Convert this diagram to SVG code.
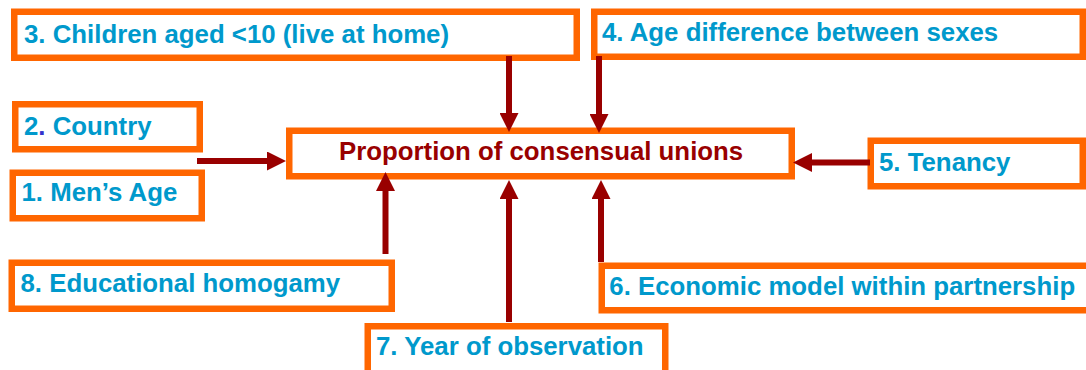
<svg xmlns="http://www.w3.org/2000/svg" width="1086" height="370" viewBox="0 0 1086 370">
<style>
.box{fill:#FFFFFF;stroke:#FF6600;stroke-width:6.5}
.lbl{font-family:"Liberation Sans",Arial,sans-serif;font-weight:bold;font-size:25.8px;fill:#0099CC}
.main{font-family:"Liberation Sans",Arial,sans-serif;font-weight:bold;font-size:25.8px;fill:#990000}
.conn{stroke:#990000;stroke-width:6;fill:none}
</style>
<defs>
<marker id="ah" viewBox="0 0 19 19" refX="1" refY="9.5" markerWidth="19" markerHeight="19" markerUnits="userSpaceOnUse" orient="auto">
<path d="M0,0 L19,9.5 L0,19 z" fill="#990000"/>
</marker>
</defs>
<rect width="1086" height="370" fill="#FFFFFF"/>
<g id="node-3"><rect class="box" x="14.25" y="11.75" width="562.5" height="46"/><text class="lbl" x="24" y="43">3. Children aged &lt;10 (live at home)</text></g>
<g id="node-4"><rect class="box" x="594.25" y="11.75" width="488.5" height="45"/><text class="lbl" x="602" y="41">4. Age difference between sexes</text></g>
<g id="node-2"><rect class="box" x="15.25" y="104.25" width="184.5" height="45"/><text class="lbl" x="24" y="135">2<tspan fill="#3333CC">.</tspan> Country</text></g>
<g id="node-1"><rect class="box" x="12.75" y="172.75" width="189" height="45.5"/><text class="lbl" x="21.5" y="201">1. Men’s Age</text></g>
<g id="node-center"><rect class="box" x="289.25" y="130.75" width="502.5" height="45.5"/><text class="main" x="339" y="160">Proportion of consensual unions</text></g>
<g id="node-5"><rect class="box" x="870.75" y="140.75" width="212" height="45.5"/><text class="lbl" x="879" y="171">5. Tenancy</text></g>
<g id="node-8"><rect class="box" x="11.75" y="262.75" width="380" height="46"/><text class="lbl" x="20.5" y="291.5">8. Educational homogamy</text></g>
<g id="node-6"><rect class="box" x="601.75" y="265.75" width="490" height="44.5"/><text class="lbl" x="609.3" y="295">6. Economic model within partnership</text></g>
<g id="node-7"><rect class="box" x="367.75" y="326.25" width="297.5" height="48"/><text class="lbl" x="376" y="355">7. Year of observation</text></g>
<g id="connectors">
<path class="conn" d="M197,161 L268,161" marker-end="url(#ah)"/>
<path class="conn" d="M509,56 L509,114" marker-end="url(#ah)"/>
<path class="conn" d="M599,56 L599,115" marker-end="url(#ah)"/>
<path class="conn" d="M870,162.5 L811,162.5" marker-end="url(#ah)"/>
<path class="conn" d="M385.5,254 L385.5,190" marker-end="url(#ah)"/>
<path class="conn" d="M509,322 L509,198" marker-end="url(#ah)"/>
<path class="conn" d="M601,262 L601,198" marker-end="url(#ah)"/>
</g>
</svg>
